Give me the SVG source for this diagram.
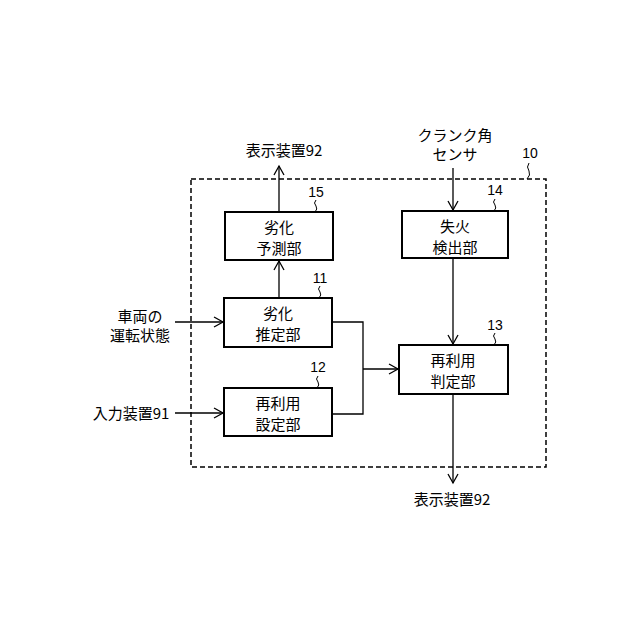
<svg xmlns="http://www.w3.org/2000/svg" width="640" height="640" viewBox="0 0 640 640">
<style>
.box{fill:#fff;stroke:#000;stroke-width:2}
.ln{fill:none;stroke:#000;stroke-width:1.3}
.sq{fill:none;stroke:#000;stroke-width:1}
.t{font-family:"Noto Sans CJK JP","Liberation Sans",sans-serif;font-size:15px;fill:#000;text-anchor:middle}
.e{font-family:"Noto Sans CJK JP","Liberation Sans",sans-serif;font-size:15px;fill:#000;text-anchor:middle}
.n{font-family:"Liberation Sans",sans-serif;font-size:14px;fill:#000;text-anchor:middle}
.dash{fill:none;stroke:#000;stroke-width:1.5;stroke-dasharray:5,3}
</style>
<defs>
<marker id="ah" markerWidth="12" markerHeight="12" refX="10" refY="6" orient="auto" markerUnits="userSpaceOnUse">
<path d="M1,1 L10,6 L1,11" fill="none" stroke="#000" stroke-width="1.3"/>
</marker>
</defs>
<rect width="640" height="640" fill="#fff"/>
<g id="frame10">
<rect class="dash" x="191" y="179" width="355" height="288"/>
<text class="n" x="530" y="158">10</text>
<path class="sq" d="M529,163 q-3,4 0,8 q2,4 -2,8"/>
</g>
<g id="connectors">
<line class="ln" x1="279" y1="212" x2="279" y2="166" marker-end="url(#ah)"/>
<line class="ln" x1="279" y1="298" x2="279" y2="261" marker-end="url(#ah)"/>
<line class="ln" x1="175" y1="322" x2="223" y2="322" marker-end="url(#ah)"/>
<line class="ln" x1="175" y1="413" x2="223" y2="413" marker-end="url(#ah)"/>
<polyline class="ln" points="332,322 363,322 363,414 332,414"/>
<line class="ln" x1="363" y1="369" x2="398" y2="369" marker-end="url(#ah)"/>
<line class="ln" x1="453" y1="168" x2="453" y2="210" marker-end="url(#ah)"/>
<line class="ln" x1="453" y1="258" x2="453" y2="344" marker-end="url(#ah)"/>
<line class="ln" x1="453" y1="394" x2="453" y2="483" marker-end="url(#ah)"/>
</g>
<g id="ext-labels">
<text class="e" x="284" y="156">表示装置92</text>
<text class="e" x="455" y="141">クランク角</text>
<text class="e" x="455" y="160">センサ</text>
<text class="e" x="140" y="322">車両の</text>
<text class="e" x="140" y="341">運転状態</text>
<text class="e" x="131" y="419">入力装置91</text>
<text class="e" x="452" y="505">表示装置92</text>
</g>
<g id="node15">
<rect class="box" x="225" y="212" width="108" height="48"/>
<text class="t" x="279" y="233">劣化</text>
<text class="t" x="279" y="254">予測部</text>
<text class="n" x="316" y="197">15</text>
<path class="sq" d="M316,200 q-3,3 0,6 q2,3 -1,6"/>
</g>
<g id="node11">
<rect class="box" x="224" y="298" width="108" height="49"/>
<text class="t" x="278" y="319">劣化</text>
<text class="t" x="278" y="340">推定部</text>
<text class="n" x="320" y="283">11</text>
<path class="sq" d="M320,286 q-3,3 0,6 q2,3 -1,6"/>
</g>
<g id="node12">
<rect class="box" x="224" y="388" width="108" height="48"/>
<text class="t" x="278" y="409">再利用</text>
<text class="t" x="278" y="430">設定部</text>
<text class="n" x="318" y="372">12</text>
<path class="sq" d="M318,376 q-3,3 0,6 q2,3 -1,6"/>
</g>
<g id="node14">
<rect class="box" x="402" y="211" width="106" height="47"/>
<text class="t" x="455" y="232">失火</text>
<text class="t" x="455" y="253">検出部</text>
<text class="n" x="495" y="195">14</text>
<path class="sq" d="M495,199 q-3,3 0,6 q2,3 -1,6"/>
</g>
<g id="node13">
<rect class="box" x="399" y="345" width="109" height="49"/>
<text class="t" x="453" y="366">再利用</text>
<text class="t" x="453" y="387">判定部</text>
<text class="n" x="495" y="330">13</text>
<path class="sq" d="M495,333 q-3,3 0,6 q2,3 -1,6"/>
</g>
</svg>
